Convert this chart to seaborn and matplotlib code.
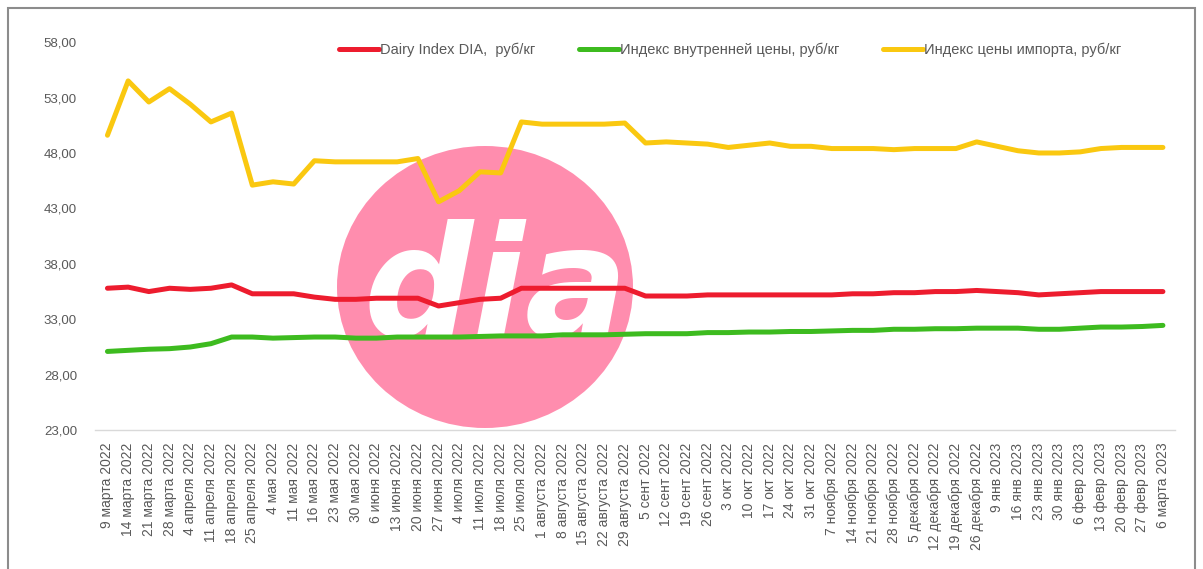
import numpy as np
import pandas as pd
import matplotlib
matplotlib.use("Agg")
import matplotlib.pyplot as plt
from matplotlib.patches import Ellipse, Rectangle
from matplotlib.ticker import FuncFormatter
import seaborn as sns

# weekly dates (tick labels)
dates = [
    "9 марта 2022", "14 марта 2022", "21 марта 2022", "28 марта 2022",
    "4 апреля 2022", "11 апреля 2022", "18 апреля 2022", "25 апреля 2022",
    "4 мая 2022", "11 мая 2022", "16 мая 2022", "23 мая 2022", "30 мая 2022",
    "6 июня 2022", "13 июня 2022", "20 июня 2022", "27 июня 2022",
    "4 июля 2022", "11 июля 2022", "18 июля 2022", "25 июля 2022",
    "1 августа 2022", "8 августа 2022", "15 августа 2022", "22 августа 2022", "29 августа 2022",
    "5 сент 2022", "12 сент 2022", "19 сент 2022", "26 сент 2022",
    "3 окт 2022", "10 окт 2022", "17 окт 2022", "24 окт 2022", "31 окт 2022",
    "7 ноября 2022", "14 ноября 2022", "21 ноября 2022", "28 ноября 2022",
    "5 декабря 2022", "12 декабря 2022", "19 декабря 2022", "26 декабря 2022",
    "9 янв 2023", "16 янв 2023", "23 янв 2023", "30 янв 2023",
    "6 февр 2023", "13 февр 2023", "20 февр 2023", "27 февр 2023", "6 марта 2023",
]

dia_index = [
    35.8, 35.9, 35.5, 35.8, 35.7, 35.8, 36.1, 35.3, 35.3, 35.3,
    35.0, 34.8, 34.8, 34.9, 34.9, 34.9, 34.2, 34.5, 34.8, 34.9,
    35.8, 35.8, 35.8, 35.8, 35.8, 35.8, 35.1, 35.1, 35.1, 35.2,
    35.2, 35.2, 35.2, 35.2, 35.2, 35.2, 35.3, 35.3, 35.4, 35.4,
    35.5, 35.5, 35.6, 35.5, 35.4, 35.2, 35.3, 35.4, 35.5, 35.5,
    35.5, 35.5,
]
domestic_index = [
    30.1, 30.2, 30.3, 30.35, 30.5, 30.8, 31.4, 31.4, 31.3, 31.35,
    31.4, 31.4, 31.3, 31.3, 31.4, 31.4, 31.4, 31.4, 31.45, 31.5,
    31.5, 31.5, 31.6, 31.6, 31.6, 31.65, 31.7, 31.7, 31.7, 31.8,
    31.8, 31.85, 31.85, 31.9, 31.9, 31.95, 32.0, 32.0, 32.1, 32.1,
    32.15, 32.15, 32.2, 32.2, 32.2, 32.1, 32.1, 32.2, 32.3, 32.3,
    32.35, 32.45,
]
import_index = [
    49.6, 54.5, 52.6, 53.8, 52.4, 50.8, 51.6, 45.1, 45.4, 45.2,
    47.3, 47.2, 47.2, 47.2, 47.2, 47.5, 43.6, 44.6, 46.3, 46.2,
    50.8, 50.6, 50.6, 50.6, 50.6, 50.7, 48.9, 49.0, 48.9, 48.8,
    48.5, 48.7, 48.9, 48.6, 48.6, 48.4, 48.4, 48.4, 48.3, 48.4,
    48.4, 48.4, 49.0, 48.6, 48.2, 48.0, 48.0, 48.1, 48.4, 48.5,
    48.5, 48.5,
]

series_names = [
    "Dairy Index DIA,  руб/кг",
    "Индекс внутренней цены, руб/кг",
    "Индекс цены импорта, руб/кг",
]
colors = ["#ED1C2E", "#3DBB1F", "#FAC810"]

df = pd.concat([
    pd.DataFrame({"pos": np.arange(len(dates)), "value": vals, "series": name})
    for name, vals in zip(series_names, [dia_index, domestic_index, import_index])
])

sns.set_style("white")
plt.rcParams["font.family"] = ["Liberation Sans", "DejaVu Sans"]

fig = plt.figure(figsize=(12.03, 5.69), dpi=100)
ax = fig.add_axes([0.079, 0.244, 0.898, 0.682])
ax.set_facecolor("none")

# pink watermark behind the lines
ax.add_patch(Ellipse((485 / 1203, 1 - 287 / 569), 296 / 1203, 282 / 569,
                     transform=fig.transFigure, facecolor="#FF8DAE",
                     edgecolor="none", zorder=0, clip_on=False))
ax.text(496 / 1203, 1 - 336 / 569, "dia", transform=fig.transFigure,
        ha="center", va="baseline", color="white", fontsize=110,
        fontweight="bold", style="italic", family="DejaVu Sans", zorder=1)

sns.lineplot(data=df, x="pos", y="value", hue="series",
             palette=dict(zip(series_names, colors)), linewidth=3.6,
             ax=ax, zorder=3)

ax.set_xlim(-0.6, len(dates) - 0.4)
ax.set_ylim(23, 58)
ax.set_yticks(np.arange(23, 59, 5))
ax.yaxis.set_major_formatter(FuncFormatter(lambda v, p: f"{v:.2f}".replace(".", ",")))
ax.set_xticks(np.arange(len(dates)))
ax.set_xticklabels(dates, rotation=90, fontsize=10, color="#595959")
ax.tick_params(axis="y", labelsize=9.5, colors="#595959", length=0, pad=13)
ax.tick_params(axis="x", length=0, pad=9)
ax.set_xlabel("")
ax.set_ylabel("")
for side in ["top", "right", "left"]:
    ax.spines[side].set_visible(False)
ax.spines["bottom"].set_color("#D9D9D9")
ax.spines["bottom"].set_linewidth(1)

handles, labels = ax.get_legend_handles_labels()
ax.legend(handles, labels, loc="center", bbox_to_anchor=(0.607, 0.912),
          bbox_transform=fig.transFigure, ncol=3, frameon=False,
          fontsize=10.5, labelcolor="#595959", handlelength=2.75,
          handletextpad=0.05, columnspacing=3.0)

# outer frame
fig.patches.append(Rectangle((8 / 1203, -0.01), 1187 / 1203, 1 - 8 / 569 + 0.01,
                             transform=fig.transFigure, fill=False,
                             edgecolor="#8C8C8C", linewidth=1.5))

fig.savefig("out.png", dpi=100)
